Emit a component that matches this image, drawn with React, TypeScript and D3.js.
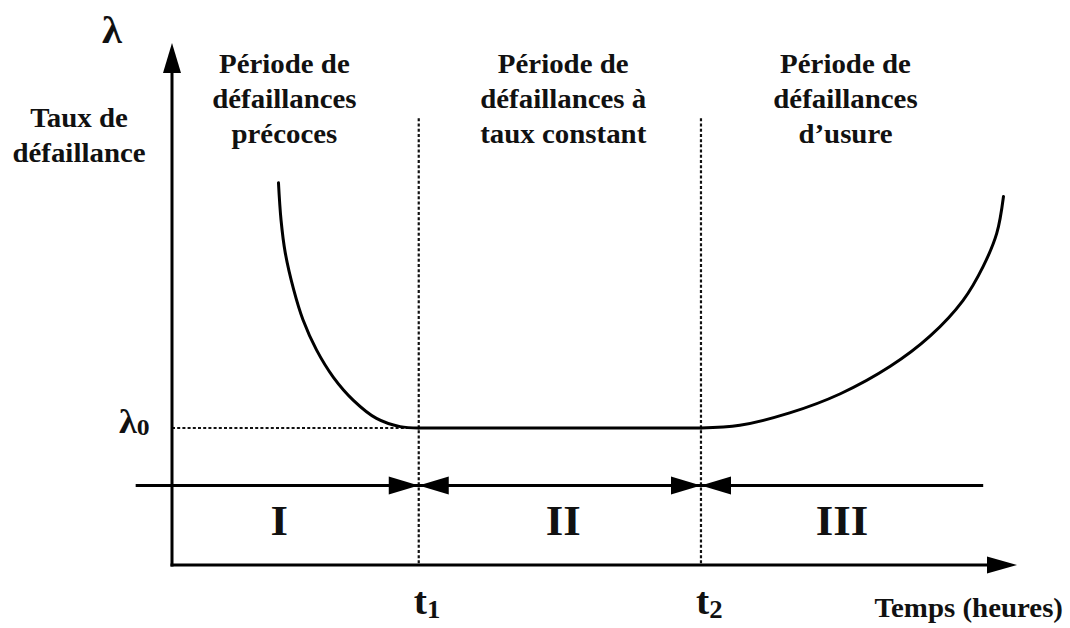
import * as d3 from 'd3';

// Courbe en baignoire : temps (0-100, unités arbitraires) et taux de défaillance (λ0 = 1)
const curveTime = [12.6, 12.9, 13.4, 14.4, 15.5, 17.1, 19.1, 21.5, 24.2, 27.0, 29.2, 62.6, 67.2, 73.1, 79.1, 85.0, 89.7, 93.6, 96.0, 97.6, 98.4];
const curveRate = [2.79, 2.52, 2.28, 2.01, 1.79, 1.57, 1.37, 1.20, 1.07, 1.01, 1.00, 1.00, 1.02, 1.11, 1.25, 1.45, 1.67, 1.93, 2.18, 2.42, 2.69];

const T1 = 29.2;
const T2 = 62.6;
const LAMBDA0 = 1;

const periodNames = ['I', 'II', 'III'];
const periodCenters = [12.7, 46.3, 79.3];
const periodTitles = [
  ['Période de', 'défaillances', 'précoces'],
  ['Période de', 'défaillances à', 'taux constant'],
  ['Période de', 'défaillances', 'd’usure'],
];
const titleCenters = [13.3, 46.3, 79.7];
const boundaryLabels = [
  { t: T1, sub: '1' },
  { t: T2, sub: '2' },
];

const W = 1070;
const H = 628;
const FONT = '"Liberation Serif", "Times New Roman", serif';
const SX = 1.07; // léger étirement horizontal du texte

const x = d3.scaleLinear().domain([0, 100]).range([172, 1017]);
const y = d3.scaleLinear().domain([0, 3.81]).range([565, 43]);

const Txt = ({ px, py, size, anchor = 'middle', children }: any) => (
  <text
    transform={`translate(${px},${py}) scale(${SX},1)`}
    textAnchor={anchor}
    fontSize={size}
    fontWeight="bold"
    fontFamily={FONT}
    fill="#111"
  >
    {children}
  </text>
);

// triangle plein : pointe en (tipX, tipY), direction (dx, dy)
const tri = (tipX: number, tipY: number, dx: number, dy: number, half: number) => {
  const len = 30;
  const bx = tipX - dx * len;
  const by = tipY - dy * len;
  const px = -dy * half;
  const py = dx * half;
  return `M${tipX},${tipY}L${bx + px},${by + py}L${bx - px},${by - py}Z`;
};

export default function App() {
  const pts: [number, number][] = curveTime.map((t, i) => [t, curveRate[i]]);
  const line = d3
    .line<[number, number]>()
    .x((d) => x(d[0]))
    .y((d) => y(d[1]))
    .curve(d3.curveCatmullRom.alpha(0.5));

  // trois morceaux : décroissance, palier λ0, usure
  const iT1 = curveTime.indexOf(T1);
  const iT2 = curveTime.indexOf(T2);
  const pieces = [pts.slice(0, iT1 + 1), pts.slice(iT1, iT2 + 1), pts.slice(iT2)];

  const x0 = x(0);
  const y0 = y(0);
  const yTop = y(3.81);
  const xEnd = x(100);
  const periodY = y(0.58);
  const dashTop = y(3.26);

  return (
    <svg
      width={W}
      height={H}
      style={{ position: 'absolute', left: 0, top: 0, background: '#fff' }}
    >
      {/* lignes pointillées */}
      {[T1, T2].map((t) => (
        <line key={t} x1={x(t)} x2={x(t)} y1={dashTop} y2={y0} stroke="#111" strokeWidth={2.2} strokeDasharray="3,2.2" />
      ))}
      <line x1={x0} x2={x(T1)} y1={y(LAMBDA0)} y2={y(LAMBDA0)} stroke="#111" strokeWidth={2.2} strokeDasharray="3,2.2" />

      {/* axes */}
      <line x1={x0} x2={x0} y1={y0 + 1.5} y2={yTop + 20} stroke="#000" strokeWidth={3} />
      <path d={tri(x0, yTop, 0, -1, 9)} fill="#000" />
      <line x1={x0 - 1.5} x2={xEnd - 20} y1={y0} y2={y0} stroke="#000" strokeWidth={3} />
      <path d={tri(xEnd, y0, 1, 0, 8.5)} fill="#000" />

      {/* ligne des périodes */}
      <line x1={x(-4.3)} x2={x(96)} y1={periodY} y2={periodY} stroke="#000" strokeWidth={3} />
      {[T1, T2].map((t) => (
        <g key={'a' + t}>
          <path d={tri(x(t), periodY, 1, 0, 9)} fill="#000" />
          <path d={tri(x(t), periodY, -1, 0, 9)} fill="#000" />
        </g>
      ))}

      {/* courbe */}
      {pieces.map((p, i) => (
        <path key={i} d={line(p) || ''} fill="none" stroke="#000" strokeWidth={3} strokeLinecap="round" />
      ))}

      {/* textes */}
      <Txt px={112} py={43} size={38}>λ</Txt>
      <Txt px={119} py={433} size={34} anchor="start">
        λ<tspan fontSize={24} dy={2}>0</tspan>
      </Txt>
      <Txt px={79} py={127} size={27}>Taux de</Txt>
      <Txt px={79} py={162} size={27}>défaillance</Txt>

      {periodTitles.map((lines, i) =>
        lines.map((s, j) => (
          <Txt key={i + '-' + j} px={x(titleCenters[i])} py={72.5 + j * 35} size={27}>
            {s}
          </Txt>
        ))
      )}

      {periodNames.map((n, i) => (
        <Txt key={n} px={x(periodCenters[i])} py={535} size={42}>
          {n}
        </Txt>
      ))}

      {boundaryLabels.map((b) => (
        <Txt key={b.sub} px={x(b.t) - 5} py={614} size={37} anchor="start">
          t<tspan fontSize={25} dy={4}>{b.sub}</tspan>
        </Txt>
      ))}

      <Txt px={1063} py={617} size={27} anchor="end">Temps (heures)</Txt>
    </svg>
  );
}
